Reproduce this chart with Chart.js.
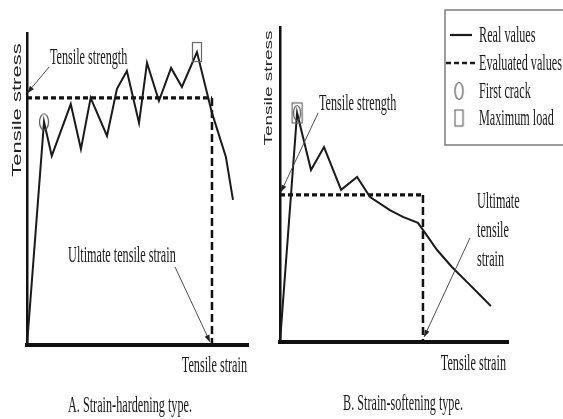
<!DOCTYPE html>
<html>
<head>
<meta charset="utf-8">
<title>Tensile stress–strain behaviour</title>
<script src="https://cdn.jsdelivr.net/npm/chart.js@4.4.1/dist/chart.umd.min.js"></script>
<style>
  html, body { margin: 0; padding: 0; background: #fff; }
  #wrap { position: relative; width: 563px; height: 419px; overflow: hidden; background: #fff; }
  #wrap canvas { position: absolute; left: 0; top: 0; }
</style>
</head>
<body>
<div id="wrap">
  <canvas id="hard" width="563" height="419"></canvas>
  <canvas id="soft" width="563" height="419"></canvas>
</div>
<script>
// ---- Data (arbitrary units, both axes 0–100) ----

// A. Strain-hardening: measured curve
const hardStrain = [0, 7.7, 11.2, 19.8, 24.4, 28.8, 36.2, 40.7, 45.2, 50.7, 54.3, 59.7, 65.2, 70.1, 76.9, 83.7, 90.0, 93.2];
const hardStress = [0, 71.5, 60.6, 77.2, 62.8, 79.2, 67.0, 82.1, 87.8, 71.2, 90.4, 78.2, 88.8, 82.7, 93.9, 74.4, 60.3, 46.5];
// A. evaluated (idealised) curve: tensile strength plateau, then drop at ultimate strain
const hardEvalStrain = [0, 83.7, 83.7];
const hardEvalStress = [79.2, 79.2, 0];
const hardFirstCrackIdx = 1;
const hardMaxLoadIdx = 14;

// B. Strain-softening: measured curve
const softStrain = [0, 7.5, 13.6, 19.3, 26.8, 33.8, 39.5, 48.2, 53.9, 60.5, 62.7, 68.9, 75.4, 82.5, 87.7, 92.5];
const softStress = [0, 72.7, 54.6, 61.9, 48.3, 52.4, 46.0, 41.9, 39.7, 37.8, 35.6, 29.2, 23.8, 18.7, 14.9, 11.4];
const softEvalStrain = [0, 62.7, 62.7];
const softEvalStress = [46.7, 46.7, 0];
const softFirstCrackIdx = 1;
const softMaxLoadIdx = 1;

// Text
const axisStress = 'Tensile stress';
const axisStrain = 'Tensile strain';
const noteStrength = 'Tensile strength';
const noteUltimate = 'Ultimate tensile strain';
const noteUltimateLines = ['Ultimate', 'tensile', 'strain'];
const captionA = 'A. Strain-hardening type.';
const captionB = 'B. Strain-softening type.';
const legendLabels = ['Real values', 'Evaluated values', 'First crack', 'Maximum load'];

// ---- Drawing helpers ----
const SERIF = '"Liberation Serif", "Times New Roman", serif';
const SANS = '"Liberation Sans", Arial, sans-serif';
const INK = '#1a1a1a';
const TEXT_SIZE = 23;
const SQUEEZE = 0.53;

function zip(xs, ys) { return xs.map((x, i) => ({ x, y: ys[i] })); }

function ellipseMark(w, h) {
  const c = document.createElement('canvas');
  c.width = w + 3; c.height = h + 3;
  const g = c.getContext('2d');
  g.strokeStyle = '#555'; g.lineWidth = 1.2;
  g.beginPath(); g.ellipse(c.width / 2, c.height / 2, w / 2, h / 2, 0, 0, Math.PI * 2); g.stroke();
  return c;
}
function rectMark(w, h) {
  const c = document.createElement('canvas');
  c.width = w + 3; c.height = h + 3;
  const g = c.getContext('2d');
  g.strokeStyle = '#666'; g.lineWidth = 1.2;
  g.strokeRect(1.5, 1.5, w, h);
  return c;
}

function squeezedText(ctx, str, x, y, o) {
  ctx.save();
  ctx.translate(x, y);
  if (o.rotate) { ctx.rotate(o.rotate); ctx.scale(1, o.squeeze || SQUEEZE); }
  else ctx.scale(o.squeeze || SQUEEZE, 1);
  ctx.font = (o.weight || 'normal') + ' ' + (o.size || TEXT_SIZE) + 'px ' + (o.family || SERIF);
  ctx.fillStyle = o.color || INK;
  ctx.textAlign = o.align || 'left';
  ctx.textBaseline = o.baseline || 'alphabetic';
  if (o.spacing) ctx.letterSpacing = o.spacing + 'px';
  ctx.fillText(str, 0, 0);
  ctx.restore();
}

function arrow(ctx, x1, y1, x2, y2) {
  ctx.save();
  ctx.strokeStyle = '#4d4d4d'; ctx.lineWidth = 1;
  ctx.beginPath(); ctx.moveTo(x1, y1); ctx.lineTo(x2, y2); ctx.stroke();
  const a = Math.atan2(y2 - y1, x2 - x1), L = 7, W = 2.6;
  ctx.fillStyle = '#222';
  ctx.beginPath();
  ctx.moveTo(x2, y2);
  ctx.lineTo(x2 - L * Math.cos(a) + W * Math.sin(a), y2 - L * Math.sin(a) - W * Math.cos(a));
  ctx.lineTo(x2 - L * Math.cos(a) - W * Math.sin(a), y2 - L * Math.sin(a) + W * Math.cos(a));
  ctx.closePath(); ctx.fill();
  ctx.restore();
}

const legendEllipse = ellipseMark(8, 17);
const legendRect = rectMark(8, 16);

function drawLegend(ctx, L) {
  ctx.save();
  ctx.strokeStyle = '#7d7d7d'; ctx.lineWidth = 1.5;
  ctx.strokeRect(L.x, L.y, L.w, L.h);
  // solid line sample
  ctx.strokeStyle = INK; ctx.lineWidth = 2.2;
  ctx.beginPath(); ctx.moveTo(L.x + 5, L.rows[0]); ctx.lineTo(L.x + 27, L.rows[0]); ctx.stroke();
  // dashed sample
  ctx.lineWidth = 2.6; ctx.setLineDash([5, 3]);
  ctx.beginPath(); ctx.moveTo(L.x + 1, L.rows[1]); ctx.lineTo(L.x + 32, L.rows[1]); ctx.stroke();
  ctx.setLineDash([]);
  ctx.drawImage(legendEllipse, L.x + 14 - legendEllipse.width / 2, L.rows[2] - legendEllipse.height / 2);
  ctx.drawImage(legendRect, L.x + 14 - legendRect.width / 2, L.rows[3] - legendRect.height / 2);
  ctx.restore();
  legendLabels.forEach((t, i) => squeezedText(ctx, t, L.x + 34, L.rows[i] + 7, {}));
}

const notesPlugin = {
  id: 'notes',
  afterDatasetsDraw(chart, args, opts) {
    const ctx = chart.ctx;
    const px = v => chart.scales.x.getPixelForValue(v);
    const py = v => chart.scales.y.getPixelForValue(v);
    (opts.arrows || []).forEach(a => arrow(ctx, px(a.from[0]), py(a.from[1]), px(a.to[0]), py(a.to[1])));
    (opts.notes || []).forEach(n => squeezedText(ctx, n.text, px(n.at[0]), py(n.at[1]), n));
    (opts.frame || []).forEach(t => squeezedText(ctx, t.text, t.x, t.y, t));
    if (opts.legend) drawLegend(ctx, opts.legend);
  }
};

function evalSegments(thick, thin) {
  return {
    borderDash: c => (c.p0DataIndex === 1 ? [8, 4] : [5, 3]),
    borderWidth: c => (c.p0DataIndex === 1 ? thin : thick)
  };
}

function panel(canvasId, real, evaluated, marks, markStyles, padding, notes) {
  return new Chart(document.getElementById(canvasId), {
    type: 'line',
    data: {
      datasets: [
        { label: legendLabels[0], data: real, borderColor: INK, borderWidth: 2,
          pointRadius: 0, tension: 0, fill: false, order: 2 },
        { label: legendLabels[1], data: evaluated, borderColor: '#111', borderWidth: 3.2,
          borderDash: [5, 3], segment: evalSegments(3.3, 2.5), pointRadius: 0, tension: 0, fill: false, order: 3 },
        { label: 'marks', data: marks, showLine: false, pointRadius: 6,
          pointStyle: markStyles, borderWidth: 0, order: 1 }
      ]
    },
    options: {
      responsive: false, animation: false, devicePixelRatio: 1, events: [],
      layout: { padding },
      plugins: { legend: { display: false }, tooltip: { enabled: false }, notes },
      scales: {
        x: { type: 'linear', min: 0, max: 100,
             ticks: { display: false }, grid: { display: false, drawTicks: false },
             border: { display: true, width: 4, color: '#111' } },
        y: { type: 'linear', min: 0, max: 100,
             ticks: { display: false }, grid: { display: false, drawTicks: false },
             border: { display: true, width: 2.5, color: '#111' } }
      }
    },
    plugins: [notesPlugin]
  });
}

// A. Strain-hardening type
panel('hard',
  zip(hardStrain, hardStress),
  zip(hardEvalStrain, hardEvalStress),
  [ { x: hardStrain[hardFirstCrackIdx], y: hardStress[hardFirstCrackIdx] },
    { x: hardStrain[hardMaxLoadIdx], y: hardStress[hardMaxLoadIdx] } ],
  [ ellipseMark(9, 16), rectMark(9, 19) ],
  { left: 27, top: 33, right: 315, bottom: 74 },
  {
    arrows: [
      { from: [10.0, 89.1], to: [0.2, 80.8] },
      { from: [67.0, 25.0], to: [82.8, 1.0] }
    ],
    notes: [
      { text: noteStrength, at: [10.4, 90.1] },
      { text: noteUltimate, at: [18.6, 26.6] }
    ],
    frame: [
      { text: axisStress, x: 17, y: 110, rotate: -Math.PI / 2, family: SANS, size: 22,
        align: 'center', baseline: 'middle', squeeze: 0.62, color: '#222' },
      { text: axisStrain, x: 247, y: 372, align: 'right' },
      { text: captionA, x: 130, y: 412, align: 'center' }
    ]
  });

// B. Strain-softening type
panel('soft',
  zip(softStrain, softStress),
  zip(softEvalStrain, softEvalStress),
  [ { x: softStrain[softFirstCrackIdx], y: softStress[softFirstCrackIdx] },
    { x: softStrain[softMaxLoadIdx], y: softStress[softMaxLoadIdx] } ],
  [ ellipseMark(7, 15), rectMark(10, 20) ],
  { left: 280, top: 27, right: 55, bottom: 77 },
  {
    arrows: [
      { from: [16.7, 72.7], to: [0.4, 47.6] },
      { from: [83.3, 33.0], to: [63.2, 1.6] }
    ],
    notes: [
      { text: noteStrength, at: [17.1, 73.7] },
      { text: noteUltimateLines[0], at: [86.4, 42.5] },
      { text: noteUltimateLines[1], at: [86.4, 33.3] },
      { text: noteUltimateLines[2], at: [86.4, 24.1] }
    ],
    frame: [
      { text: axisStress, x: 269, y: 88, rotate: -Math.PI / 2, family: SANS, size: 19,
        align: 'center', baseline: 'middle', squeeze: 0.62, color: '#222' },
      { text: axisStrain, x: 506, y: 370, align: 'right' },
      { text: captionB, x: 403, y: 410, align: 'center' }
    ],
    legend: { x: 445, y: 10, w: 130, h: 135, rows: [35, 63, 91, 118] }
  });
</script>
</body>
</html>
